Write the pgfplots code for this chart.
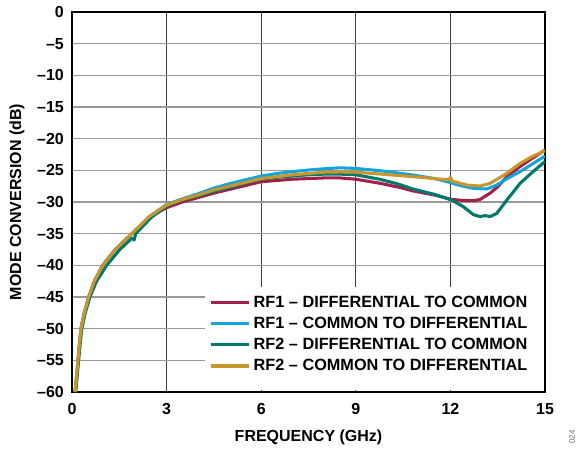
\documentclass[border=0pt]{standalone}
\usepackage{fontspec}
\setmainfont{Liberation Sans}
\usepackage{pgfplots}
\pgfplotsset{compat=1.18}

\definecolor{rfmaroon}{HTML}{A2214B}
\definecolor{rfblue}{HTML}{12A4DC}
\definecolor{rfteal}{HTML}{00796D}
\definecolor{rfgold}{HTML}{C8962B}
\newcommand{\lblfont}{\fontsize{12}{14.4}\selectfont\bfseries}
\newcommand{\legfont}{\fontsize{12.2}{14.6}\selectfont\bfseries}

\begin{document}
\begin{tikzpicture}
\path[use as bounding box] (-54pt,-42.75pt) rectangle (381pt,294pt);
\begin{axis}[
  at={(0pt,0pt)}, anchor=south west,
  scale only axis, width=354.75pt, height=285pt,
  xmin=0, xmax=15, ymin=-60, ymax=0,
  xtick={0,3,...,15}, ytick={-60,-55,...,0},
  xticklabels={0,3,6,9,12,15},
  yticklabels={–60,–55,–50,–45,–40,–35,–30,–25,–20,–15,–10,–5,0},
  ticklabel style={font=\lblfont},
  xticklabel style={yshift=-5pt},
  yticklabel style={xshift=-2.6pt},
  major tick length=0pt,
  xmajorgrids=true, ymajorgrids=true,
  x grid style={black!75, line width=0.6pt},
  y grid style={black!40, line width=0.9pt},
  axis line style={black, line width=0.9pt},
  xlabel={FREQUENCY (GHz)},
  ylabel={MODE CONVERSION (dB)},
  xlabel style={at={(axis description cs:0.5,-0.1184)}, anchor=center, font=\lblfont},
  ylabel style={at={(axis description cs:-0.1163,0.5)}, anchor=center, font=\lblfont},
  legend cell align=left,
  legend style={at={(0.281,0.271)}, anchor=north west, draw=none, fill=white,
    font=\legfont, row sep=1.8pt, inner xsep=3pt, inner ysep=3pt},
  legend image code/.code={\draw[#1, line width=2.4pt] (0pt,0pt) -- (29pt,0pt);},
  every axis plot/.append style={line width=2.3pt, line join=round},
]
% white panel behind the legend
\fill[white] (rel axis cs:0.281,0.004) rectangle (rel axis cs:0.997,0.276);

% RF1 - differential to common
\addplot[rfmaroon] coordinates {
 (0.10,-60) (0.145,-57.5) (0.19,-55) (0.235,-52.5) (0.285,-50) (0.39,-47.5)
 (0.53,-45) (0.71,-42.5) (0.97,-40) (1.37,-37.5) (1.9,-35) (2.48,-32.3)
 (3.0,-30.9) (3.5,-30.0) (4.0,-29.3) (4.5,-28.6) (5.0,-28.0) (5.5,-27.4)
 (6.0,-26.8) (6.5,-26.6) (7.0,-26.4) (7.5,-26.3) (8.0,-26.2) (8.5,-26.2)
 (9.0,-26.4) (9.77,-27.05) (10.4,-27.7) (10.82,-28.26) (11.5,-28.9)
 (12.04,-29.6) (12.4,-29.75) (12.73,-29.8) (12.94,-29.6) (13.26,-28.6)
 (13.5,-27.6) (13.79,-26.0) (14.21,-24.4) (14.6,-23.1) (15.0,-21.8)
};
\addlegendentry{RF1 – DIFFERENTIAL TO COMMON}

% RF1 - common to differential
\addplot[rfblue] coordinates {
 (0.10,-60) (0.145,-57.5) (0.19,-55) (0.235,-52.5) (0.285,-50) (0.39,-47.5)
 (0.53,-45) (0.71,-42.5) (0.98,-40) (1.38,-37.5) (1.9,-35) (2.45,-32.3)
 (3.0,-30.4) (3.5,-29.5) (4.0,-28.7) (4.5,-27.8) (5.0,-27.1) (5.5,-26.5)
 (6.0,-25.9) (6.5,-25.5) (7.0,-25.2) (7.5,-24.95) (8.0,-24.75) (8.5,-24.6)
 (9.0,-24.7) (9.77,-25.06) (10.3,-25.4) (10.82,-25.74) (11.5,-26.3)
 (11.98,-26.9) (12.02,-26.6) (12.06,-27.05) (12.4,-27.5) (12.73,-27.85)
 (13.15,-27.95) (13.47,-27.32) (13.8,-26.3) (14.21,-25.2) (14.6,-24.0)
 (15.0,-22.74)
};
\addlegendentry{RF1 – COMMON TO DIFFERENTIAL}

% RF2 - differential to common
\addplot[rfteal] coordinates {
 (0.12,-60) (0.165,-57.5) (0.21,-55) (0.26,-52.5) (0.31,-50) (0.42,-47.5)
 (0.57,-45) (0.78,-42.5) (1.1,-40) (1.5,-37.6) (1.9,-35.7) (1.97,-36.0)
 (2.02,-35.0) (2.5,-32.5) (3.0,-30.6) (3.5,-29.7) (4.0,-29.0) (4.5,-28.3)
 (5.0,-27.7) (5.5,-27.0) (6.0,-26.4) (6.5,-26.1) (7.0,-25.9) (7.5,-25.7)
 (8.0,-25.6) (8.5,-25.6) (9.0,-25.7) (9.77,-26.42) (10.3,-27.1)
 (10.82,-27.95) (11.5,-28.8) (12.04,-29.7) (12.41,-30.74) (12.73,-32.0)
 (12.94,-32.3) (13.1,-32.15) (13.26,-32.3) (13.47,-31.8) (13.79,-29.7)
 (14.21,-27.05) (14.6,-25.3) (15.0,-23.6)
};
\addlegendentry{RF2 – DIFFERENTIAL TO COMMON}

% RF2 - common to differential
\addplot[rfgold] coordinates {
 (0.10,-60) (0.145,-57.5) (0.19,-55) (0.235,-52.5) (0.285,-50) (0.39,-47.5)
 (0.53,-45) (0.71,-42.5) (0.98,-40) (1.38,-37.5) (1.9,-35) (2.45,-32.3)
 (3.0,-30.5) (3.5,-29.6) (4.0,-28.9) (4.5,-28.1) (5.0,-27.5) (5.5,-26.9)
 (6.0,-26.3) (6.5,-26.0) (7.0,-25.7) (7.5,-25.5) (8.0,-25.3) (8.5,-25.25)
 (9.0,-25.3) (9.77,-25.58) (10.3,-25.8) (10.82,-26.0) (11.5,-26.3)
 (11.96,-26.5) (12.0,-26.1) (12.05,-26.7) (12.52,-27.32) (12.94,-27.48)
 (13.26,-27.05) (13.79,-25.48) (14.21,-23.9) (14.6,-22.8) (15.0,-21.9)
};
\addlegendentry{RF2 – COMMON TO DIFFERENTIAL}
\end{axis}
\node[rotate=90, text=black!60, font=\fontsize{6}{7}\selectfont] at (375pt,-33.75pt) {024};
\end{tikzpicture}
\end{document}
